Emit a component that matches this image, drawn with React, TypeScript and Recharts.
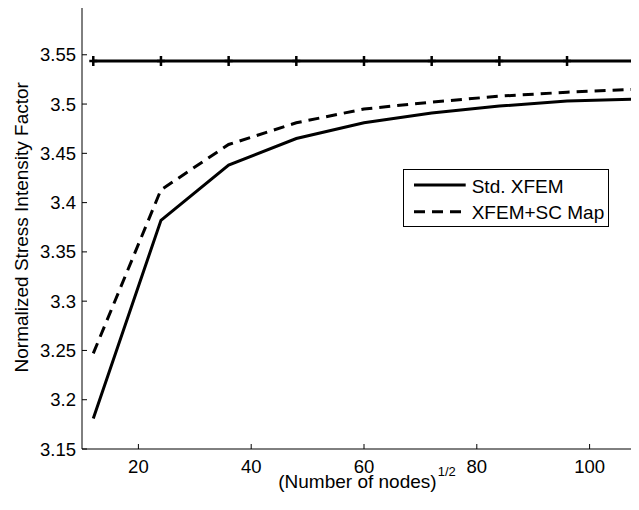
import React from 'react';
import { LineChart, Line, XAxis, YAxis, Legend } from 'recharts';

const nodes = [12, 24, 36, 48, 60, 72, 84, 96, 108];
const stdXfem = [3.181, 3.382, 3.438, 3.465, 3.481, 3.491, 3.498, 3.503, 3.505];
const scMap = [3.247, 3.413, 3.459, 3.481, 3.495, 3.502, 3.508, 3.512, 3.515];
const exactSif = [3.5436, 3.5436, 3.5436, 3.5436, 3.5436, 3.5436, 3.5436, 3.5436, 3.5436];
const xTicks = [20, 40, 60, 80, 100];
const yTicks = [3.15, 3.2, 3.25, 3.3, 3.35, 3.4, 3.45, 3.5, 3.55];
const seriesNames = ['Std. XFEM', 'XFEM+SC Map'];
const xLabel = '(Number of nodes)';
const xLabelSup = '1/2';
const yLabel = 'Normalized Stress Intensity Factor';

const data = nodes.map((n, i) => ({ n, std: stdXfem[i], sc: scMap[i], exact: exactSif[i] }));

const FONT = '"Liberation Sans", Arial, Helvetica, sans-serif';
const FS_TICK = 18.5;
const FS = 19;
const DASH = '11 7';
const LW = 3;

function BottomTick(props: any) {
  const { x, y, payload } = props;
  return (
    <g>
      <line x1={x} x2={x} y1={y} y2={y - 5} stroke="#000" strokeWidth={1} />
      <text x={x} y={y + 23.7} textAnchor="middle" fontSize={FS_TICK} fontFamily={FONT} fill="#000">
        {payload.value}
      </text>
    </g>
  );
}

function TopTick(props: any) {
  const { x, y } = props;
  return <line x1={x} x2={x} y1={y} y2={y + 5} stroke="#000" strokeWidth={1} />;
}

function LeftTick(props: any) {
  const { x, y, payload } = props;
  const label = String(Number(Number(payload.value).toFixed(2)));
  return (
    <g>
      <line x1={x} x2={x + 5} y1={y} y2={y} stroke="#000" strokeWidth={1} />
      <text x={x - 6} y={y + 6.5} textAnchor="end" fontSize={FS_TICK} fontFamily={FONT} fill="#000">
        {label}
      </text>
    </g>
  );
}

function PlusDot(props: any) {
  const { cx, cy } = props;
  if (cx == null || cy == null) return null;
  return (
    <g>
      <line x1={cx} x2={cx} y1={cy - 5} y2={cy + 5} stroke="#000" strokeWidth={2.5} />
      <line x1={cx - 4} x2={cx + 4} y1={cy} y2={cy} stroke="#000" strokeWidth={2.5} />
    </g>
  );
}

function XLabel(props: any) {
  const vb = props.viewBox || {};
  const cx = vb.x + vb.width / 2 + 3;
  return (
    <text x={cx} y={vb.y + 38.5} textAnchor="middle" fontSize={FS} fontFamily={FONT} fill="#000">
      {xLabel}
      <tspan dx={1} dy={-11.4} fontSize={13}>{xLabelSup}</tspan>
    </text>
  );
}

function YLabel(props: any) {
  const vb = props.viewBox || {};
  const cy = vb.y + vb.height / 2;
  const cx = 28;
  return (
    <text
      x={cx}
      y={cy}
      transform={`rotate(-90, ${cx}, ${cy})`}
      textAnchor="middle"
      fontSize={FS}
      fontFamily={FONT}
      fill="#000"
    >
      {yLabel}
    </text>
  );
}

function LegendBox() {
  return (
    <svg width={207} height={59} style={{ display: 'block' }}>
      <rect x={0.5} y={0.5} width={205} height={57} fill="#fff" stroke="#000" strokeWidth={1} />
      <line x1={11} x2={62.7} y1={16} y2={16} stroke="#000" strokeWidth={LW} />
      <text x={68.7} y={24.3} fontSize={FS} fontFamily={FONT} fill="#000">{seriesNames[0]}</text>
      <line x1={11} x2={62.7} y1={42.7} y2={42.7} stroke="#000" strokeWidth={LW} strokeDasharray={DASH} />
      <text x={68.7} y={49.5} fontSize={FS} fontFamily={FONT} fill="#000">{seriesNames[1]}</text>
    </svg>
  );
}

export default function App() {
  return (
    <div style={{ margin: '-8px 0 0 -8px', width: 639, height: 510, overflow: 'hidden', background: '#fff' }}>
      <LineChart
        width={646}
        height={510}
        data={data}
        margin={{ top: 5.5, right: 0, bottom: 0, left: 0 }}
      >
        <XAxis
          dataKey="n"
          type="number"
          domain={[10, 110]}
          ticks={xTicks}
          interval={0}
          allowDataOverflow
          height={61}
          axisLine={{ stroke: '#000', strokeWidth: 1 }}
          tickLine={false}
          tickSize={0}
          tickMargin={0}
          tick={<BottomTick />}
          label={<XLabel />}
        />
        <XAxis
          xAxisId="top"
          dataKey="n"
          type="number"
          orientation="top"
          domain={[10, 110]}
          ticks={xTicks}
          interval={0}
          allowDataOverflow
          height={0}
          axisLine={{ stroke: '#000', strokeWidth: 1 }}
          tickLine={false}
          tickSize={0}
          tickMargin={0}
          tick={<TopTick />}
        />
        <YAxis
          type="number"
          domain={[3.15, 3.6]}
          ticks={yTicks}
          interval={0}
          allowDataOverflow
          width={82}
          axisLine={{ stroke: '#000', strokeWidth: 1 }}
          tickLine={false}
          tickSize={0}
          tickMargin={0}
          tick={<LeftTick />}
          label={<YLabel />}
        />
        <Legend
          layout="vertical"
          align="center"
          verticalAlign="middle"
          content={<LegendBox />}
          wrapperStyle={{ position: 'absolute', left: 403, top: 169, width: 207, height: 59 }}
        />
        <Line
          dataKey="exact"
          type="linear"
          stroke="#000"
          strokeWidth={LW}
          dot={<PlusDot />}
          activeDot={false}
          isAnimationActive={false}
          legendType="none"
        />
        <Line
          dataKey="std"
          name={seriesNames[0]}
          type="linear"
          stroke="#000"
          strokeWidth={LW}
          dot={false}
          activeDot={false}
          isAnimationActive={false}
        />
        <Line
          dataKey="sc"
          name={seriesNames[1]}
          type="linear"
          stroke="#000"
          strokeWidth={LW}
          strokeDasharray={DASH}
          dot={false}
          activeDot={false}
          isAnimationActive={false}
        />
      </LineChart>
    </div>
  );
}
